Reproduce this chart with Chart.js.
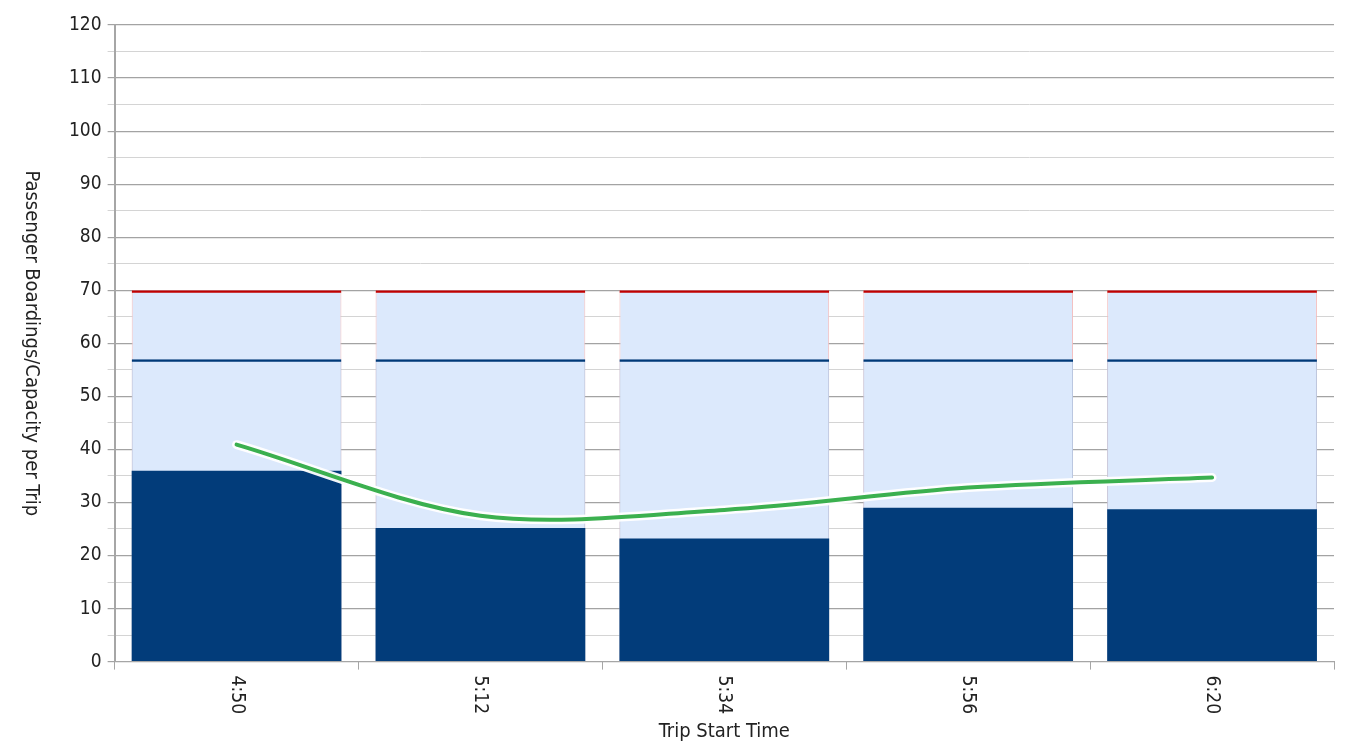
<!DOCTYPE html>
<html>
<head>
<meta charset="utf-8">
<script src="https://cdn.jsdelivr.net/npm/chart.js@4.4.0/dist/chart.umd.min.js"></script>
<style>
  html, body { margin: 0; padding: 0; background: #fff; }
  #wrap { width: 1348px; height: 750px; }
</style>
</head>
<body>
<div id="wrap"><canvas id="tripChart"></canvas></div>
<script>
// Datos
const trips = ['4:50', '5:12', '5:34', '5:56', '6:20']
const boardings = [36, 25.2, 23.2, 29, 28.7]
const seatedCap = [57, 57, 57, 57, 57]
const totalCap = [70, 70, 70, 70, 70]
const avgLoad = [40.9, 27.5, 28.6, 32.8, 34.7]

const FONT = "'Liberation Sans Narrow', 'Arial Narrow', 'DejaVu Sans Condensed', sans-serif"
const LIGHT = '#dce9fc'
const NAVY = '#023c7a'

// Textos girados en sentido horario (como en el original)
const rotatedText = {
    id: 'rotatedText',
    afterDraw(chart) {
        const ctx = chart.ctx
        const x = chart.scales.x
        const y = chart.scales.y
        ctx.save()
        ctx.fillStyle = '#222'
        ctx.font = '19px ' + FONT
        ctx.textAlign = 'left'
        ctx.textBaseline = 'middle'
        trips.forEach((t, i) => {
            ctx.save()
            ctx.translate(x.getPixelForTick(i), x.top + 14)
            ctx.rotate(Math.PI / 2)
            ctx.fillText(t, 0, 0)
            ctx.restore()
        })
        ctx.font = '20px ' + FONT
        ctx.textAlign = 'center'
        ctx.save()
        ctx.translate(y.left + 28, (y.top + y.bottom) / 2)
        ctx.rotate(Math.PI / 2)
        ctx.fillText('Passenger Boardings/Capacity per Trip', 0, 0)
        ctx.restore()
        ctx.restore()
    }
}

let ctx = document.getElementById('tripChart')
const config = {
    data: {
        labels: trips,
        datasets: [
            {
                type: 'line', label: 'Average', data: avgLoad, order: 0,
                borderColor: '#3bb04f', borderWidth: 4, tension: 0.32,
                pointRadius: 0, borderCapStyle: 'round'
            },
            {
                type: 'line', label: 'halo', data: avgLoad, order: 1,
                borderColor: 'rgba(255,255,255,0.95)', borderWidth: 9, tension: 0.32,
                pointRadius: 0, borderCapStyle: 'round'
            },
            {
                type: 'bar', label: 'Boardings', data: boardings, order: 2,
                backgroundColor: NAVY, borderWidth: 0
            },
            {
                type: 'bar', label: 'Seated line', data: seatedCap, order: 3,
                backgroundColor: 'rgba(0,0,0,0)', borderColor: '#003a78',
                borderWidth: {top: 2.5, left: 0, right: 0, bottom: 0}, borderSkipped: false
            },
            {
                type: 'bar', label: 'Capacity line', data: totalCap, order: 4,
                backgroundColor: 'rgba(0,0,0,0)', borderColor: '#c00000',
                borderWidth: {top: 2.5, left: 0, right: 0, bottom: 0}, borderSkipped: false
            },
            {
                type: 'bar', label: 'Seated capacity', data: seatedCap, order: 5,
                backgroundColor: LIGHT, borderColor: '#b7c8e2',
                borderWidth: {top: 0, left: 1, right: 1, bottom: 0}, borderSkipped: false
            },
            {
                type: 'bar', label: 'Total capacity', data: totalCap, order: 6,
                backgroundColor: LIGHT, borderColor: '#f3bcbc',
                borderWidth: {top: 0, left: 1, right: 1, bottom: 0}, borderSkipped: false
            }
        ]
    },
    options: {
        responsive: true,
        maintainAspectRatio: false,
        animation: false,
        layout: { padding: { top: 25, right: 14, left: 3, bottom: 6 } },
        datasets: { bar: { barPercentage: 0.86, categoryPercentage: 1 } },
        plugins: { legend: { display: false }, tooltip: { enabled: false } },
        scales: {
            x: {
                stacked: true,
                grid: { offset: true, drawOnChartArea: false, color: '#a6a6a6', tickLength: 8 },
                border: { color: '#a6a6a6', width: 1 },
                ticks: {
                    minRotation: 90, maxRotation: 90, padding: 2,
                    color: 'rgba(0,0,0,0)', font: { family: FONT, size: 19 }
                },
                title: {
                    display: true, text: 'Trip Start Time', color: '#222',
                    font: { family: FONT, size: 20 }, padding: { top: 8, bottom: 0 }
                }
            },
            y: {
                stacked: false,
                min: 0, max: 120,
                grid: {
                    color: c => (c.tick.value % 10 === 0 ? '#a3a3a3' : '#d4d4d4'),
                    lineWidth: c => (c.tick.value % 10 === 0 ? 1.2 : 1),
                    tickLength: 7
                },
                border: { color: '#a6a6a6', width: 2 },
                ticks: {
                    stepSize: 5, padding: 6, color: '#222', autoSkip: false,
                    font: { family: FONT, size: 19 },
                    callback: v => (v % 10 === 0 ? v : '')
                },
                title: {
                    display: true, text: 'Passenger Boardings/Capacity per Trip',
                    color: 'rgba(0,0,0,0)', font: { family: FONT, size: 20 },
                    padding: { top: 0, bottom: 36 }
                }
            }
        }
    },
    plugins: [rotatedText]
}

let myChart = new Chart(ctx, config)
</script>
</body>
</html>
